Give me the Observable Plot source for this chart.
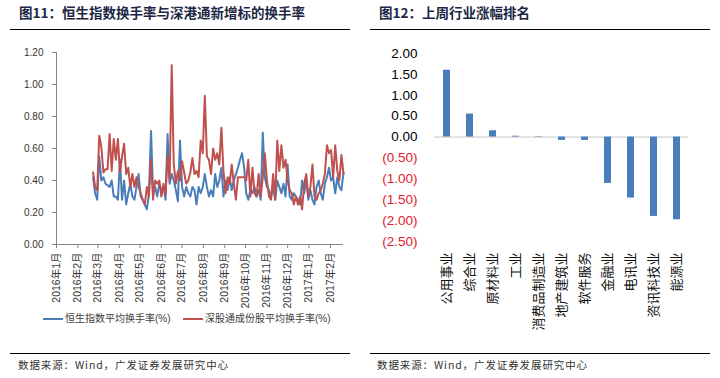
<!DOCTYPE html>
<html><head><meta charset="utf-8">
<script src="https://cdn.jsdelivr.net/npm/d3@7"></script>
<script src="https://cdn.jsdelivr.net/npm/@observablehq/plot@0.6"></script>
<style>
body{margin:0;background:#fff;}
#wrap{position:relative;width:720px;height:378px;overflow:hidden;font-family:"Noto Sans CJK SC",sans-serif;}
.title{position:absolute;top:3px;font-size:13.5px;line-height:18px;font-weight:bold;color:#1c2744;white-space:nowrap;}
.rule{position:absolute;height:0;border-top:1.5px solid #000;}
.src{position:absolute;top:358px;font-size:10.5px;line-height:14px;color:#333;letter-spacing:0.9px;white-space:nowrap;}
.panel{position:absolute;top:0;}
.leg{position:absolute;top:312px;font-size:10px;line-height:14px;color:#404040;display:flex;align-items:center;white-space:nowrap;font-family:"Liberation Sans","Noto Sans CJK SC",sans-serif;}
.sw{display:inline-block;width:20px;height:2.5px;margin-right:2px;}
</style></head><body>
<div id="wrap">
  <div class="panel" id="left" style="left:0"></div>
  <div class="panel" id="right" style="left:360px"></div>
  <div class="title" style="left:19px">图11：恒生指数换手率与深港通新增标的换手率</div>
  <div class="title" style="left:379px">图12：上周行业涨幅排名</div>
  <div class="rule" style="left:10px;width:340px;top:28.5px"></div>
  <div class="rule" style="left:370px;width:340px;top:28.5px"></div>
  <div class="leg" style="left:43px"><span class="sw" style="background:#4a7ebb"></span>恒生指数平均换手率(%)</div>
  <div class="leg" style="left:183px"><span class="sw" style="background:#c0504d"></span>深股通成份股平均换手率(%)</div>
  <div class="rule" style="left:10px;width:340px;top:352.5px"></div>
  <div class="rule" style="left:370px;width:340px;top:352.5px"></div>
  <div class="src" style="left:18px">数据来源：Wind，广发证券发展研究中心</div>
  <div class="src" style="left:377px">数据来源：Wind，广发证券发展研究中心</div>
</div>
<script>
// ---- Figure 11 data ----
const dates = [
 "2016-02-23","2016-02-26","2016-02-29",
 "2016-03-03","2016-03-06","2016-03-09","2016-03-12","2016-03-15","2016-03-18","2016-03-21","2016-03-24","2016-03-27","2016-03-30",
 "2016-04-02","2016-04-05","2016-04-08","2016-04-11","2016-04-14","2016-04-17","2016-04-20","2016-04-23","2016-04-26","2016-04-29",
 "2016-05-02","2016-05-05","2016-05-08","2016-05-11","2016-05-14","2016-05-17","2016-05-20","2016-05-23","2016-05-26","2016-05-29",
 "2016-06-01","2016-06-04","2016-06-07","2016-06-10","2016-06-13","2016-06-16","2016-06-19","2016-06-22","2016-06-25","2016-06-28",
 "2016-07-01","2016-07-04","2016-07-07","2016-07-10","2016-07-13","2016-07-16","2016-07-19","2016-07-22","2016-07-25","2016-07-28","2016-07-31",
 "2016-08-03","2016-08-06","2016-08-09","2016-08-12","2016-08-15","2016-08-18","2016-08-21","2016-08-24","2016-08-27","2016-08-30",
 "2016-09-02","2016-09-05","2016-09-08","2016-09-11","2016-09-14","2016-09-17","2016-09-20","2016-09-23","2016-09-26","2016-09-29",
 "2016-10-02","2016-10-05","2016-10-08","2016-10-11","2016-10-14","2016-10-17","2016-10-20","2016-10-23","2016-10-26","2016-10-29",
 "2016-11-01","2016-11-04","2016-11-07","2016-11-10","2016-11-13","2016-11-16","2016-11-19","2016-11-22","2016-11-25","2016-11-28",
 "2016-12-01","2016-12-04","2016-12-07","2016-12-10","2016-12-13","2016-12-16","2016-12-19","2016-12-22","2016-12-25","2016-12-28","2016-12-31",
 "2017-01-03","2017-01-06","2017-01-09","2017-01-12","2017-01-15","2017-01-18","2017-01-21","2017-01-24","2017-01-27","2017-01-30",
 "2017-02-02","2017-02-05","2017-02-08","2017-02-11","2017-02-14","2017-02-17","2017-02-20"
];
const hsiTurnover = [
 0.42,0.32,0.28,0.55,0.40,0.42,0.38,0.37,0.36,0.40,
 0.30,0.30,0.28,0.53,0.28,0.40,0.25,0.32,0.38,0.30,
 0.28,0.36,0.44,0.30,0.28,0.25,0.22,0.32,0.71,0.32,
 0.36,0.30,0.38,0.34,0.36,0.28,0.69,0.38,0.44,0.40,
 0.34,0.27,0.65,0.36,0.30,0.36,0.32,0.30,0.36,0.34,
 0.25,0.36,0.32,0.36,0.44,0.36,0.30,0.34,0.30,0.44,
 0.36,0.40,0.48,0.30,0.40,0.34,0.42,0.34,0.40,0.44,
 0.48,0.53,0.57,0.48,0.32,0.28,0.34,0.32,0.36,0.30,
 0.34,0.28,0.70,0.42,0.36,0.34,0.30,0.36,0.28,0.40,
 0.36,0.32,0.38,0.30,0.50,0.30,0.28,0.32,0.30,0.28,
 0.25,0.40,0.32,0.40,0.28,0.34,0.28,0.25,0.36,0.40,
 0.32,0.28,0.38,0.42,0.48,0.40,0.42,0.32,0.42,0.36,
 0.34,0.45
];
const szConnectTurnover = [
 0.45,0.36,0.34,0.68,0.61,0.45,0.47,0.47,0.69,0.46,
 0.66,0.53,0.66,0.45,0.55,0.63,0.44,0.48,0.36,0.44,
 0.36,0.42,0.36,0.32,0.28,0.25,0.36,0.30,0.53,0.28,
 0.40,0.38,0.40,0.30,0.38,0.31,0.55,0.40,1.12,0.50,
 0.38,0.46,0.40,0.52,0.45,0.38,0.40,0.45,0.54,0.44,
 0.46,0.42,0.65,0.57,0.93,0.55,0.53,0.44,0.60,0.53,
 0.57,0.50,0.73,0.46,0.32,0.42,0.38,0.50,0.38,0.28,
 0.42,0.42,0.42,0.42,0.40,0.53,0.30,0.48,0.32,0.30,
 0.44,0.30,0.42,0.57,0.40,0.30,0.28,0.44,0.28,0.65,
 0.46,0.62,0.48,0.53,0.40,0.34,0.32,0.25,0.30,0.25,
 0.30,0.22,0.38,0.44,0.30,0.36,0.50,0.30,0.28,0.32,
 0.34,0.38,0.44,0.62,0.57,0.59,0.42,0.62,0.46,0.40,
 0.56,0.44
];
const monthTicks = ["2016-01-01","2016-02-01","2016-03-01","2016-04-01","2016-05-01","2016-06-01","2016-07-01",
 "2016-08-01","2016-09-01","2016-10-01","2016-11-01","2016-12-01","2017-01-01","2017-02-01"];
const xDomain = ["2016-01-01","2017-02-20"];
const yTicksLeft = [0, 0.2, 0.4, 0.6, 0.8, 1.0, 1.2];

// ---- Figure 12 data ----
const industries = ["公用事业","综合业","原材料业","工业","消费品制造业","地产建筑业","软件服务","金融业","电讯业","资讯科技业","能源业"];
const industryReturns = [1.60, 0.55, 0.15, 0.02, -0.01, -0.08, -0.08, -1.11, -1.46, -1.90, -1.98];
const yTicksRight = [2.0, 1.5, 1.0, 0.5, 0.0, -0.5, -1.0, -1.5, -2.0, -2.5];

const BLUE = "#4a7ebb", RED = "#c0504d", AXIS = "#868686";
const latin = '"Liberation Sans","Noto Sans CJK SC",sans-serif';

const rows = dates.map((d, i) => ({date: new Date(d), hsi: hsiTurnover[i], sz: szConnectTurnover[i]}));

const left = Plot.plot({
  width: 360, height: 318,
  marginLeft: 56, marginRight: 17, marginTop: 52, marginBottom: 74,
  style: {fontFamily: latin, fontSize: "10px", color: "#333", background: "transparent"},
  x: {type: "utc", domain: xDomain.map(d => new Date(d)), label: null},
  y: {domain: [0, 1.2], label: null},
  marks: [
    Plot.ruleY([0], {stroke: AXIS}),
    Plot.ruleX([new Date(xDomain[0])], {stroke: AXIS}),
    Plot.axisY(yTicksLeft, {tickFormat: d3.format(".2f"), tickSize: 4, tickPadding: 9, stroke: AXIS, fill: "#333", fontSize: 10, label: null}),
    Plot.axisX(monthTicks.map(d => new Date(d)), {
      tickRotate: -90, tickSize: 4, tickPadding: 4, stroke: AXIS, fill: "#333", fontSize: 10.5, label: null,
      tickFormat: d => `${d.getUTCFullYear()}年${d.getUTCMonth() + 1}月`
    }),
    Plot.lineY(rows, {x: "date", y: "hsi", stroke: BLUE, strokeWidth: 2}),
    Plot.lineY(rows, {x: "date", y: "sz", stroke: RED, strokeWidth: 2})
  ]
});
document.getElementById("left").appendChild(left);

const fmtParen = v => v < 0 ? `(${Math.abs(v).toFixed(2)})` : v.toFixed(2);
const bars = industries.map((name, i) => ({name, value: industryReturns[i]}));

const right = Plot.plot({
  width: 360, height: 345,
  marginLeft: 74, marginRight: 32, marginTop: 53, marginBottom: 104,
  style: {fontFamily: latin, fontSize: "12px", color: "#000", background: "transparent"},
  x: {domain: industries, paddingInner: 0.7, paddingOuter: 0.35, label: null},
  y: {domain: [-2.5, 2.0], label: null, axis: null},
  marks: [
    Plot.ruleY([0], {stroke: "#c6c6c6"}),
    Plot.barY(bars, {x: "name", y: "value", fill: BLUE}),
    Plot.text(yTicksRight, {
      y: d => d, frameAnchor: "left", dx: -17, textAnchor: "end",
      text: fmtParen, fill: d => d < 0 ? "#e0202c" : "#000", fontSize: 13.5
    }),
    Plot.axisX({tickRotate: -90, tickSize: 0, tickPadding: 11, fontSize: 13, fill: "#111", label: null,
      fontFamily: '"Noto Sans CJK SC",sans-serif'})
  ]
});
document.getElementById("right").appendChild(right);
</script>
</body></html>
